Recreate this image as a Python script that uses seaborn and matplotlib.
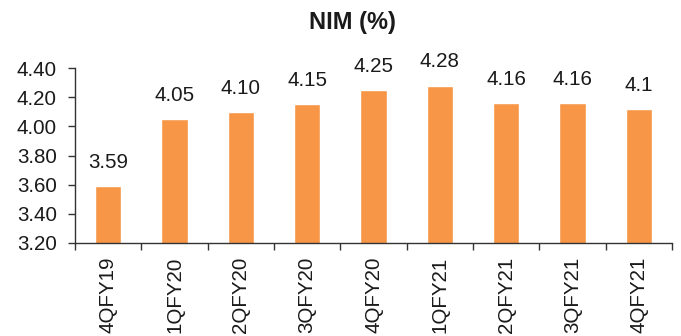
import matplotlib
matplotlib.use("Agg")
import matplotlib.pyplot as plt
import seaborn as sns
import pandas as pd
import numpy as np

quarters = ["4QFY19", "1QFY20", "2QFY20", "3QFY20", "4QFY20", "1QFY21", "2QFY21", "3QFY21", "4QFY21"]
nim = [3.59, 4.05, 4.10, 4.15, 4.25, 4.28, 4.16, 4.16, 4.12]
labels = ["3.59", "4.05", "4.10", "4.15", "4.25", "4.28", "4.16", "4.16", "4.1"]
yticks = [3.20, 3.40, 3.60, 3.80, 4.00, 4.20, 4.40]

sns.set_theme(style="white")
plt.rcParams['font.family'] = ['Liberation Sans', 'DejaVu Sans']

df = pd.DataFrame({"quarter": quarters, "nim": nim})

fig = plt.figure(figsize=(6.81, 3.36), dpi=100)
ax = fig.add_axes([75/681, 1 - 243/336, 597/681, 175/336])

sns.barplot(data=df, x="quarter", y="nim", color="#F79646", width=0.40,
            saturation=1, ax=ax)

FS = 14.8
ax.set_ylim(3.20, 4.40)
ax.set_xlim(-0.5, len(quarters) - 0.5)
ax.set_yticks(yticks)
ax.set_yticklabels([f"{v:.2f}" for v in yticks], fontsize=FS, color="#1a1a1a")
ax.set_xticks(range(len(quarters)))
ax.set_xticklabels(quarters, rotation=90, fontsize=FS, color="#1a1a1a")
ax.tick_params(axis="x", length=0, pad=10)
ax.set_xticks(np.arange(-0.5, len(quarters), 1), minor=True)
ax.tick_params(axis="x", which="minor", length=5, width=1, color="#333333", direction="out", bottom=True)
ax.tick_params(axis="y", length=5, width=1, color="#333333", direction="out", left=True, pad=8)
ax.set_xlabel("")
ax.set_ylabel("")

for sp in ["top", "right"]:
    ax.spines[sp].set_visible(False)
for sp in ["left", "bottom"]:
    ax.spines[sp].set_color("#333333")
    ax.spines[sp].set_linewidth(1)

for i, (v, lab) in enumerate(zip(nim, labels)):
    ax.annotate(lab, (i, v), xytext=(0, 13), textcoords="offset points",
                ha="center", va="baseline", fontsize=FS, color="#1a1a1a")

fig.text(352/681, 1 - 22/336, "NIM (%)", ha="center", va="center",
         fontsize=17, fontweight="bold", color="#1a1a1a")

fig.savefig("out.png", dpi=100)
